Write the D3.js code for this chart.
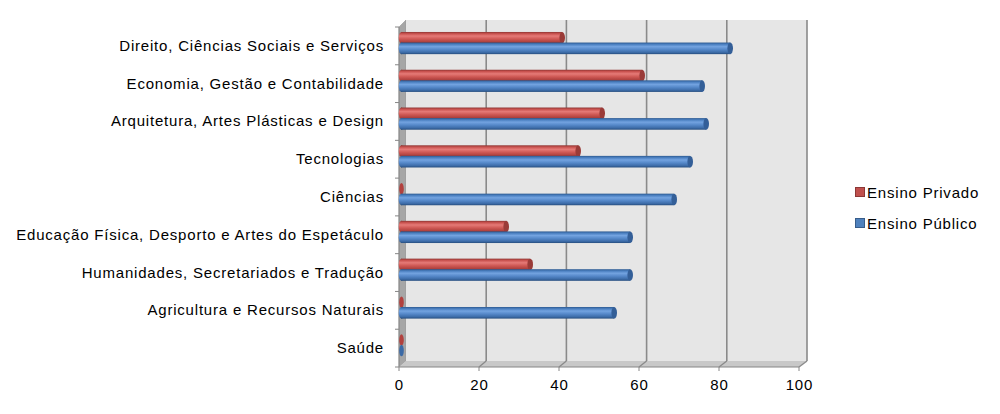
<!DOCTYPE html>
<html>
<head>
<meta charset="utf-8">
<script src="https://cdn.jsdelivr.net/npm/d3@7"></script>
<style>
  body { margin: 0; background: #fff; }
  text { font-family: "Liberation Sans", Arial, sans-serif; fill: #000; font-size: 15px; letter-spacing: 0.8px; }
</style>
</head>
<body>
<svg id="chart" width="1000" height="414"></svg>
<script>
const categories = [
  "Direito, Ciências Sociais e Serviços",
  "Economia, Gestão e Contabilidade",
  "Arquitetura, Artes Plásticas e Design ",
  "Tecnologias",
  "Ciências",
  "Educação Física, Desporto e Artes do Espetáculo",
  "Humanidades, Secretariados e Tradução",
  "Agricultura e Recursos Naturais",
  "Saúde"
];
const privado = [41, 61, 51, 45, 0, 27, 33, 0, 0];
const publico = [83, 76, 77, 73, 69, 58, 58, 54, 0];
const xTicks = [0, 20, 40, 60, 80, 100];
const seriesNames = ["Ensino Privado", "Ensino Público"];

const svg = d3.select("#chart");
const defs = svg.append("defs");

// front edge of the floor and back wall (3d depth offset)
const depthX = 7;
const xFront = d3.scaleLinear().domain([0, 100]).range([399, 799]);
const xBack = d3.scaleLinear().domain([0, 100]).range([399 + depthX, 799 + 8]);
const xBar = d3.scaleLinear().domain([0, 100]).range([401, 801]);
const y = d3.scaleBand().domain(categories).range([27, 367]).padding(0);
const wallTop = 20, floorY = 367;

// cylinder gradients
const grads = {
  red: ["#8f3532", "#c9524f", "#e57a77", "#cf5955", "#b0423f", "#7d2c2a"],
  blue: ["#2d5a91", "#4a7fc0", "#73a3e0", "#5588c9", "#3d6ca8", "#264d7e"]
};
Object.entries(grads).forEach(([k, c]) => {
  const g = defs.append("linearGradient").attr("id", "g-" + k)
    .attr("x1", 0).attr("y1", 0).attr("x2", 0).attr("y2", 1);
  [0, 0.15, 0.35, 0.6, 0.85, 1].forEach((o, i) =>
    g.append("stop").attr("offset", o).attr("stop-color", c[i]));
});

// left side wall
svg.append("polygon")
  .attr("points", [[399, 27], [406, wallTop], [406, floorY - 6], [399, floorY]].join(" "))
  .attr("fill", "#a6a6a6").attr("stroke", "#8c8c8c").attr("stroke-width", 0.5);

// back wall
svg.append("rect")
  .attr("x", xBack(0)).attr("y", wallTop)
  .attr("width", xBack(100) - xBack(0)).attr("height", floorY - 6 - wallTop)
  .attr("fill", "#e6e6e6");

// floor
svg.append("polygon")
  .attr("points", [[xFront(0), floorY], [xBack(0), floorY - 6], [xBack(100), floorY - 6], [xFront(100), floorY]].join(" "))
  .attr("fill", "#c8c8c8");

// gridlines on wall and floor
xTicks.filter(d => d > 0).forEach(d => {
  svg.append("line")
    .attr("x1", xBack(d)).attr("x2", xBack(d))
    .attr("y1", wallTop).attr("y2", floorY - 6)
    .attr("stroke", "#8a8a8a").attr("stroke-width", 1.6);
  svg.append("line")
    .attr("x1", xBack(d)).attr("y1", floorY - 6)
    .attr("x2", xFront(d)).attr("y2", floorY)
    .attr("stroke", "#8a8a8a").attr("stroke-width", 1.3);
});

// axes
svg.append("line").attr("x1", 399).attr("x2", 399).attr("y1", 27).attr("y2", floorY)
  .attr("stroke", "#868686");
svg.append("line").attr("x1", 399).attr("x2", xFront(100)).attr("y1", floorY).attr("y2", floorY)
  .attr("stroke", "#868686");
categories.concat([null]).forEach(c => {
  const yy = c ? y(c) : floorY;
  svg.append("line").attr("x1", 395).attr("x2", 399).attr("y1", yy).attr("y2", yy)
    .attr("stroke", "#868686");
});
xTicks.forEach(d => {
  svg.append("line").attr("x1", xFront(d)).attr("x2", xFront(d))
    .attr("y1", floorY).attr("y2", floorY + 4).attr("stroke", "#868686");
  svg.append("text").attr("x", xFront(d) + 0.4).attr("y", 390)
    .attr("text-anchor", "middle").text(d);
});

// category labels
svg.append("g").selectAll("text").data(categories).join("text")
  .attr("x", 384).attr("y", d => y(d) + y.bandwidth() / 2 + 5)
  .attr("text-anchor", "end")
  .text(d => d);

// cylinders
const barH = 11.6;
function cylinder(v, cy, color) {
  const g = svg.append("g");
  const x0 = xBar(0), x1 = xBar(v);
  const rx = 2.8, ry = barH / 2;
  if (v > 0) {
    g.append("rect").attr("x", x0).attr("y", cy - ry)
      .attr("width", Math.max(0, x1 - x0 - rx)).attr("height", barH)
      .attr("fill", `url(#g-${color})`);
    g.append("ellipse").attr("cx", x0 + 0.5).attr("cy", cy).attr("rx", rx).attr("ry", ry)
      .attr("fill", `url(#g-${color})`);
    g.append("ellipse").attr("cx", x1 - rx).attr("cy", cy).attr("rx", rx).attr("ry", ry)
      .attr("fill", color === "red" ? "#9a3b38" : "#345f98");
  } else {
    g.append("ellipse").attr("cx", x0 + 0.5).attr("cy", cy).attr("rx", 2.3).attr("ry", ry)
      .attr("fill", color === "red" ? "#b2413e" : "#3b6aa6");
  }
}
categories.forEach((c, i) => {
  const b = y(c), bw = y.bandwidth();
  cylinder(privado[i], b + bw * 0.285, "red");
  cylinder(publico[i], b + bw * 0.565, "blue");
});

// legend
const legend = svg.append("g");
seriesNames.forEach((s, i) => {
  const ly = 187 + i * 31;
  legend.append("rect").attr("x", 855.5).attr("y", ly + 0.5).attr("width", 9).attr("height", 9)
    .attr("fill", i === 0 ? "#c0504d" : "#4f81bd")
    .attr("stroke", i === 0 ? "#8c3836" : "#385d8a");
  legend.append("text").attr("x", 867).attr("y", ly + 10.5).text(s);
});
</script>
</body>
</html>
